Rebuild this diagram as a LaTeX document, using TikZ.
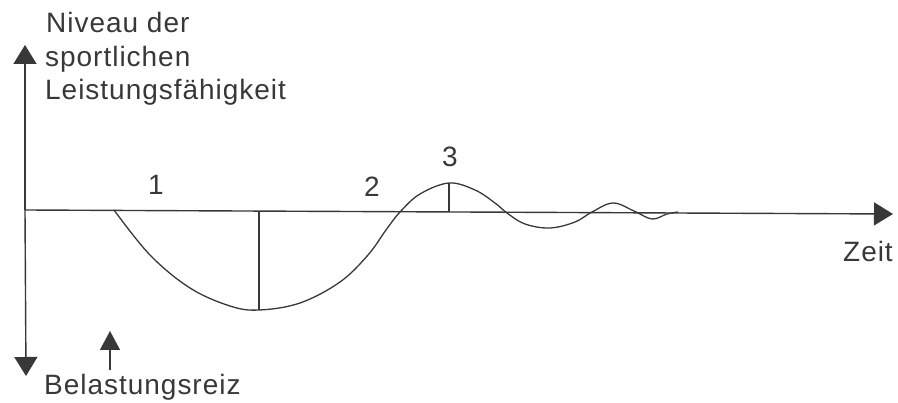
\documentclass[tikz,border=0pt]{standalone}
\usepackage{fontspec}
\setmainfont{Liberation Sans}[LetterSpace=3.5]
\usetikzlibrary{arrows.meta}
\definecolor{ink}{HTML}{383838}
\tikzset{
  axis/.style={draw=ink, line width=1.4pt, -{Triangle[length=19pt,width=23pt]}},
  curve/.style={draw=ink, line width=1.3pt},
  lab/.style={text=ink, font=\fontsize{28}{34}\selectfont, inner sep=0pt},
}
\begin{document}
\begin{tikzpicture}[x=1pt,y=-1pt]
\useasboundingbox (0,0) rectangle (898,403);
\coordinate (o) at (25,210);
\coordinate (ytop) at (25,45);
\coordinate (ybot) at (26,376);
\coordinate (xend) at (893,214);
\draw[axis] (o) -- (ytop);
\draw[axis] (o) -- (ybot);
\draw[axis] (o) -- (xend);
% curve
\draw[curve] plot[smooth, tension=0.6] coordinates {
 (114,210) (150,255) (190,288) (230,306) (259,310) (300,303) (340,282) (368,255) (386,230) (400,212)
 (420,194) (449,183) (475,190) (495,203) (507,213) (525,224) (550,228) (575,222) (592,212)
 (613,203) (634,211) (652,219) (667,214) (678,212)};
\coordinate (m1top) at (259,211);
\coordinate (m1bot) at (259,310);
\draw[curve] (m1top) -- (m1bot);
\coordinate (m3top) at (449,183);
\coordinate (m3bot) at (449,212);
\draw[curve] (m3top) -- (m3bot);
% labels
\node[lab, anchor=base west] (t1) at (46,33) {Niveau der};
\node[lab, anchor=base west] (t2) at (45,66.5) {sportlichen};
\node[lab, anchor=base west] (t3) at (45,100) {Leistungsfähigkeit};
\node[lab, anchor=base] (n1) at (156,195) {1};
\node[lab, anchor=base] (n2) at (372,197) {2};
\node[lab, anchor=base] (n3) at (450,167) {3};
\node[lab, anchor=base east] (zeit) at (893,262) {Zeit};
\node[lab, anchor=base west] (bel) at (44,395) {Belastungsreiz};
\coordinate (belbase) at (110,370);
\coordinate (beltip) at (110,331);
\draw[draw=ink, line width=1.3pt, -{Triangle[length=19pt,width=20pt]}] (belbase) -- (beltip);
\end{tikzpicture}
\end{document}
